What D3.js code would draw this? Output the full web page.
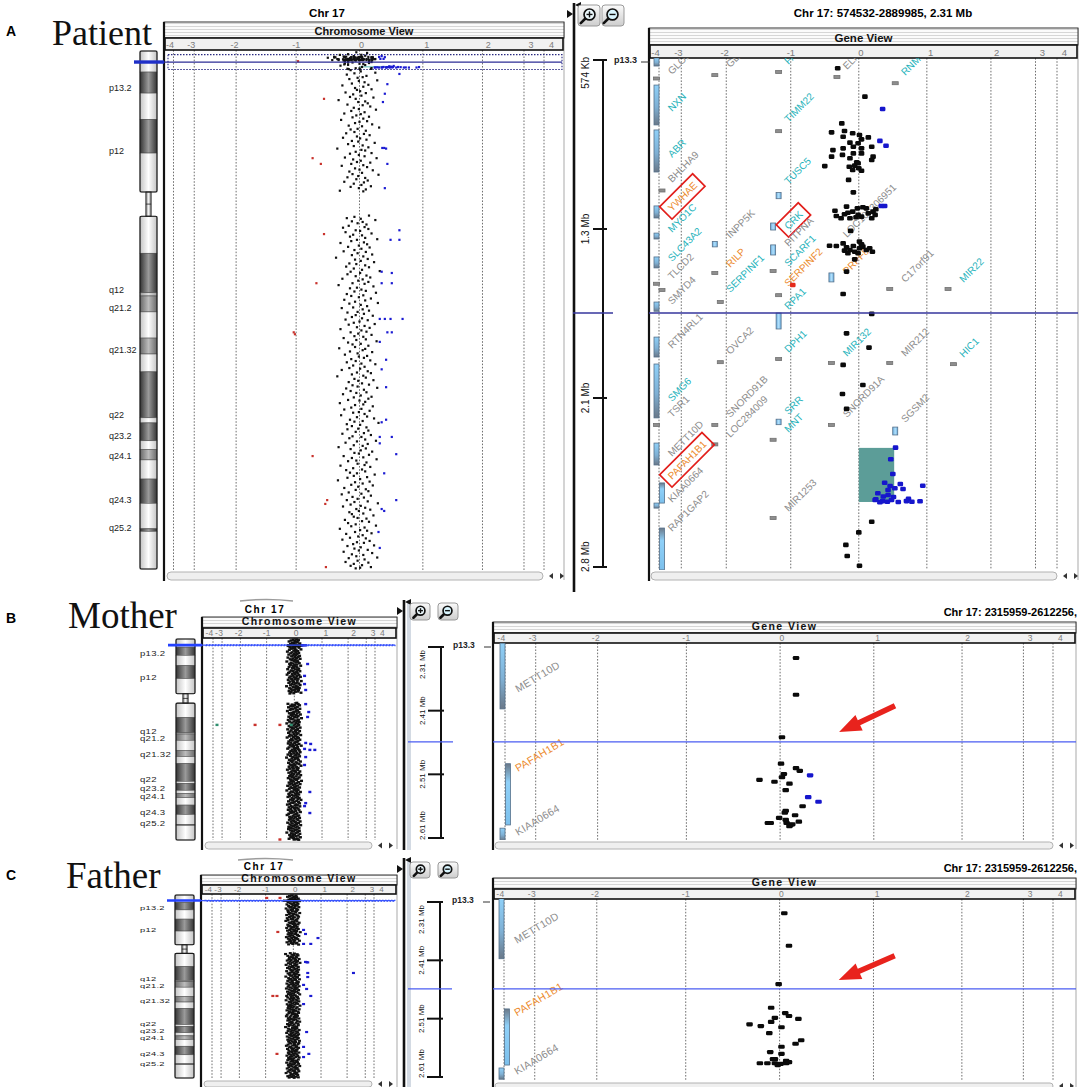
<!DOCTYPE html>
<html><head><meta charset="utf-8"><title>Chr 17 array CGH views</title>
<script src="https://cdn.jsdelivr.net/npm/d3@7/dist/d3.min.js"></script>
<style>
html,body{margin:0;padding:0;background:#fff;}
svg{display:block;font-family:Arial,"Liberation Sans",Helvetica,sans-serif;}
</style></head><body>
<svg id="fig" width="1084" height="1087" viewBox="0 0 1084 1087"></svg>
<script>
// ======================= DATA =======================
const chromosomeLengthMb = 81.2;
const logRatioTicks = [-4,-3,-2,-1,0,1,2,3,4];
const bandNames = ["p13.2","p12","q12","q21.2","q21.32","q22","q23.2","q24.1","q24.3","q25.2"];
const bandNameMb = [5.8,15.6,37.4,40.3,46.8,57.0,60.4,63.5,70.3,74.7];
// [start Mb, end Mb, stain]  w=white d=dark g=gray l=light acen=centromere
const chromBands = [[0,3.3,"w"],[3.3,6.6,"d"],[6.6,10.7,"w"],[10.7,16.0,"d"],[16.0,22.1,"w"],[22.1,25.9,"acen"],
 [25.9,31.7,"w"],[31.7,37.9,"d"],[37.9,38.4,"l"],[38.4,40.9,"g"],[40.9,45.0,"w"],[45.0,47.5,"g"],[47.5,50.3,"w"],
 [50.3,57.5,"d"],[57.5,58.3,"w"],[58.3,61.1,"d"],[61.1,62.5,"w"],[62.5,64.1,"g"],[64.1,67.1,"w"],[67.1,70.9,"d"],
 [70.9,74.9,"w"],[74.9,75.3,"d"],[75.3,81.2,"w"]];

// probe positions along chr17 (0.1 Mb units)
const probePositions = `
2 3 5 6 8 10 11 13 15 16 18 20 22 23 25 27 28 30 32 34
35 37 39 41 42 44 46 47 49 51 53 54 56 58 60 61 63 65 66 68
70 72 73 75 77 79 80 82 84 85 87 89 91 92 94 96 98 99 101 103
104 106 108 110 111 113 115 117 118 120 122 123 125 127 129 130 132 134 136 137
139 141 142 144 146 148 149 151 153 155 156 158 160 161 163 165 167 168 170 172
174 175 177 179 180 182 184 186 187 189 191 193 194 196 198 199 201 203 205 206
208 210 212 213 215 217 219 220 258 260 262 263 265 267 268 270 272 274 276 277
279 281 282 284 286 288 289 291 293 295 296 298 300 301 303 305 307 308 310 312
314 315 317 319 320 322 324 326 327 329 331 333 334 336 338 339 341 343 345 346
348 350 352 353 355 357 358 360 362 364 365 367 369 371 372 374 376 377 379 381
383 384 386 388 390 391 393 395 396 398 400 402 403 405 407 409 410 412 414 415
417 419 421 422 424 426 428 429 431 433 434 436 438 440 441 443 445 447 448 450
452 453 455 457 459 460 462 464 466 467 469 471 472 474 476 478 479 481 483 485
486 488 490 491 493 495 497 498 500 502 504 505 507 509 510 512 514 516 517 519
521 523 524 526 528 529 531 533 535 536 538 540 542 543 545 547 548 550 552 554
555 557 559 561 562 564 566 567 569 571 573 574 576 578 580 581 583 585 586 588
590 592 593 595 597 599 600 602 604 605 607 609 611 612 614 616 618 619 621 623
624 626 628 630 631 633 635 637 638 640 642 643 645 647 649 650 652 654 656 657
659 661 662 664 666 668 669 671 673 675 676 678 680 681 683 685 687 688 690 692
694 695 697 699 700 702 704 706 707 709 711 713 714 716 718 719 721 723 725 726
728 730 732 733 735 737 738 740 742 744 745 747 749 751 752 754 756 757 759 761
763 764 766 768 770 771 773 775 776 778 780 782 783 785 787 789 790 792 794 795
797 799 801 802 804 806 807 809 810 811`;

// log2 ratios x100 at each probe
const patientLR = `
-5 12 -18 3 -9 21 -2 7 -25 15 -11 0 9 -30 4 -6 18 -14 2 25
-8 -20 11 5 -3 -16 28 -1 8 -12 14 -27 6 -7 19 -4 1 -22 10 -10
3 -15 22 -6 -33 9 -2 13 -19 5 17 -9 -1 26 -13 8 -24 2 -5 15
-11 6 -29 12 0 -7 20 -17 4 31 -3 -14 10 -8 -21 7 16 -4 -26 1
11 -12 -2 24 -18 5 -9 14 -35 3 9 -6 19 -15 -1 8 -23 27 -10 2
-4 17 -13 6 -28 12 -7 0 21 -16 4 -11 30 -2 -19 9 -5 13 -24 7
-9 3 18 -14 -1 10 -31 6 15 -8 -20 2 25 -12 5 -3 11 -17 8 -26
14 -6 1 -22 19 -10 4 -15 9 28 -4 -13 7 -30 12 -1 -18 16 3 -8
-25 10 -3 20 -12 6 -37 13 -7 2 23 -16 -5 9 -21 15 -9 4 32 -14
1 -19 11 -6 17 -27 5 -2 14 -11 8 -33 22 -4 -15 3 10 -8 26 -20
6 -13 -1 18 -24 9 -7 29 -16 2 12 -10 -28 5 15 -3 -19 7 -6 21
-12 4 -22 13 0 -9 24 -17 8 -4 16 -30 3 11 -14 -2 19 -8 6 -25
10 -5 27 -18 2 -11 14 -7 -32 9 5 -15 20 -3 -23 12 -1 7 -13 17
-6 -20 3 25 -10 8 -16 1 -28 13 -4 18 -12 6 -35 10 -8 22 -2 -17
4 15 -11 -3 28 -21 7 -14 11 -5 -26 2 19 -9 14 -18 0 9 -31 6
-7 21 -13 3 -24 16 -1 -10 8 -29 12 -4 23 -15 5 -8 30 -20 1 -12
11 -2 -19 14 -6 7 -27 18 -11 3 -16 9 26 -4 -22 13 -9 5 -33 10
-14 2 20 -8 -1 15 -25 6 -12 27 -5 -18 11 -3 8 -30 17 -10 4 -21
9 -15 -4 24 -9 12 -19 1 -34 16 -7 5 -13 21 -2 -24 10 -6 14 -17
3 -28 18 -11 7 -3 -20 13 -8 29 -14 2 -26 9 -5 17 -1 -16 6 -12
22 -9 -3 11 -23 4 15 -18 -6 26 -13 8 -31 1 12 -7 19 -21 5 -2
-15 10 -27 16 -4 7 -10 23 -19 2 -8 13 -1 -25 20 -12 6 -5 28 -17
8 -3 -22 14 -9 4 -14 18 1 -6`;

const motherLR = `
8 -4 15 -12 2 -19 6 11 -7 -1 20 -14 4 -9 13 -3 -22 9 1 -16
17 -6 -11 3 24 -18 7 -2 12 -25 5 -8 16 -13 0 10 -20 6 -4 19
-10 2 14 -23 8 -5 21 -15 3 -9 11 -1 -27 13 5 -12 18 -6 -17 9
1 -14 23 -3 7 -19 10 -7 -2 16 -24 4 12 -11 -5 20 -16 8 -1 -21
13 -8 3 -26 17 -4 9 -13 22 -1 -18 6 14 -10 2 -22 11 -6 25 -15
-3 10 -20 5 16 -9 -1 21 -14 7 -28 12 -5 3 18 -17 8 -11 1 15
-7 -19 13 4 -12 24 -2 -16 9 6 -23 14 -8 1 19 -13 -4 11 -21 7
3 -11 20 -6 -15 8 12 -25 5 -2 17 -9 -18 10 -3 22 -12 6 -7 14
-20 1 9 -14 26 -5 -10 15 -22 4 11 -1 -17 18 -8 7 -27 13 2 -12
16 -4 -19 10 5 -13 21 -7 -2 12 -24 8 -11 3 19 -16 6 -5 -21 14
-1 9 -15 23 -8 4 -18 11 -3 -26 15 2 -10 7 20 -14 -6 13 -20 5
10 -12 1 -22 17 -6 8 -15 25 -3 -9 12 -19 6 0 -24 14 -7 3 18
-13 5 -4 21 -17 9 -1 -11 16 -23 7 2 -14 19 -6 11 -28 4 -9 13
2 -18 15 -5 -12 22 -8 6 -21 10 -2 17 -15 3 -10 24 -4 -19 8 -7
14 -3 -16 9 -25 12 -6 1 20 -11 5 -20 16 -8 -1 11 -13 23 -5 -17
7 -9 18 -2 -22 13 4 -14 8 -6 26 -12 -3 15 -19 9 -10 2 21 -16
-5 12 -24 6 1 -13 19 -7 10 -18 3 -1 14 -27 8 -11 22 -4 -15 11
4 -20 16 -9 7 -3 -17 12 -23 5 18 -8 -2 13 -14 24 -6 9 -21 1
15 -10 -4 19 -16 6 -25 11 2 -12 20 -7 -19 8 -1 14 -13 3 -22 17
-8 5 -15 22 -3 -11 10 -20 7 1 -26 16 -5 12 -17 4 -9 19 -2 -14
9 -18 13 -6 -1 21 -12 4 -24 15 -7 8 -16 2 23 -10 -3 11 -20 6
-12 17 -4 -21 10 3 -14 18 -8 -2 12 -27 7 -11 20 -5 1 -17 14 -6
5 -13 22 -9 -3 11 -19 8 -1 16`;

const fatherLR = `
-6 10 -14 3 -21 12 -2 7 -10 18 -4 -16 9 1 -12 22 -8 5 -19 13
2 -11 17 -5 -23 8 -1 14 -17 6 -7 20 -13 3 -26 11 -3 16 -9 -20
12 -4 5 -18 9 -12 23 -6 1 -15 10 -24 15 -2 -9 19 -14 4 -1 -22
16 -8 -3 11 -19 7 -27 13 -5 2 -15 21 -10 6 -1 17 -20 8 -12 4
-17 14 -6 1 -24 10 -9 18 -2 -13 6 -21 12 3 -7 25 -16 9 -4 -11
7 -19 15 -3 -10 20 -14 2 -25 11 -6 8 -18 16 -1 -12 5 22 -8 -15
3 -23 13 -7 9 -2 -17 19 -11 4 -28 14 -5 1 17 -20 10 -9 -3 12
-14 6 -1 21 -16 8 -8 -22 15 2 -12 11 -4 24 -18 5 -10 13 -26 7
10 -3 -15 18 -7 1 -21 12 -13 6 19 -9 -2 14 -24 9 -5 16 -11 3
-19 11 2 -14 20 -6 -10 7 -27 15 -1 12 -17 4 -8 22 -13 8 -3 -20
13 -5 18 -12 -2 9 -23 16 -7 3 -16 10 -1 21 -19 6 -11 14 -4 -25
8 -15 4 19 -9 -3 12 -21 5 -13 17 -6 1 -18 23 -10 7 -2 -24 11
-8 15 -20 2 -5 18 -12 9 -1 -26 13 -7 20 -15 4 -10 11 -3 16 -22
6 -11 -4 24 -17 3 -9 14 -2 -19 10 -13 21 -6 1 -23 8 -14 17 -1
-10 19 -16 5 -3 12 -22 7 -8 15 -25 4 -12 11 2 -18 20 -7 9 -15
1 -20 14 -9 23 -4 -13 10 -6 17 -21 3 -11 18 -2 -16 6 12 -28 8
-3 13 -18 7 -12 21 -5 2 -19 11 -9 16 -1 -24 9 -7 19 -14 4 -10
15 -6 -22 10 3 -15 18 -8 -1 13 -20 6 -11 22 -4 -17 8 1 -13 20
-9 4 17 -19 6 -2 -25 12 -10 9 -14 19 -6 2 -21 14 -3 10 -16 5
11 -12 -5 20 -18 7 -1 -15 13 -8 3 -23 16 -4 -11 9 21 -17 2 -7
-14 18 -3 -20 8 12 -9 -1 15 -24 5 -12 19 -6 1 -18 11 -10 23 -5
7 -16 2 14 -22 9 -7 17 -13 4 -2 20 -19 6 -11 13 -26 3 10 -8
-4 16 -12 1 -20 9 -6 18 -15 3`;

// chromosome-view called probes [Mb, log2 ratio]
const patientChromGain = [[3.6,0.63],[5.2,0.44],[6.7,0.40],[8.0,0.37],[15.2,0.36],[15.2,0.39],[15.3,0.42],[17.7,0.44],[21.5,0.40],
 [28.1,0.63],[29.6,0.49],[29.6,0.63],[34.6,0.35],[34.8,0.51],[36.4,0.35],[36.4,0.51],[42.0,0.32],[42.0,0.40],[42.0,0.49],[42.0,0.68],
 [44.1,0.44],[44.1,0.51],[45.6,0.32],[48.4,0.42],[49.9,0.35],[52.7,0.42],[57.8,0.42],[58.2,0.35],[60.5,0.32],[60.5,0.51],[61.5,0.32],
 [63.2,0.58],[66.2,0.39],[70.4,0.58],[71.8,0.35],[72.1,0.39],[75.4,0.30],[77.9,0.32]];
const patientChromLoss = [[7.5,-0.56],[16.8,-0.74],[17.7,-0.61],[28.7,-0.56],[36.4,-0.68],[44.1,-1.04],[44.4,-1.02],[63.5,-0.74],[70.4,-0.51],[71.0,-0.54],[80.9,-0.53]];
const motherChromGain = [[10.1,0.48],[14.9,0.37],[18.2,0.37],[20.6,0.41],[26.3,0.41],[29.5,0.52],[31.5,0.48],[42.0,0.41],[42.4,0.59],[44.4,0.37],
 [44.8,0.56],[44.8,0.74],[47.7,0.41],[50.9,0.37],[61.8,0.56],[66.3,0.41],[67.5,0.37],[70.3,0.56]];
const motherChromLoss = [[34.7,-1.44],[34.7,-0.52],[81.0,-0.52]];
const motherChromOther = [[34.7,-3.56],[34.7,-0.11]];
const fatherChromGain = [[15.5,0.37],[17.3,0.44],[19.1,0.89],[21.7,0.63],[21.7,0.37],[29.7,0.44],[29.8,0.48],[29.9,0.52],[34.6,0.52],[36.4,0.52],
 [34.6,2.35],[39.9,0.37],[41.7,0.48],[44.8,0.63],[48.4,0.37],[60.8,0.48],[67.4,0.37],[70.5,0.56],[71.9,0.37]];
const fatherChromLoss = [[1.3,-0.96],[1.3,-0.48],[16.4,-0.56],[44.8,-0.74],[44.8,-0.59],[70.5,-0.59]];

// gene-view windows (bp), ruler labels, cursor position
const patientWindowBp = [574532, 2889985];
const parentWindowBp = [2315959, 2612256];
const patientGeneTitle = "Chr 17: 574532-2889985, 2.31 Mb";
const parentGeneTitle = "Chr 17: 2315959-2612256,";
const patientRulerLabels = ["574 Kb","1.3 Mb","2.1 Mb","2.8 Mb"];
const parentRulerLabels = ["2.31 Mb","2.41 Mb","2.51 Mb","2.61 Mb"];
const patientCursorMb = 1.73;
const parentCursorMb = 2.463;

// gene features [start Mb, end Mb, track, strand]
const patientGeneFeatures = [
 [0.565,0.602,0,0],[0.648,0.670,0,0],[0.689,0.871,0,0],[0.894,1.086,0,0],[1.166,1.175,0,1],[1.241,1.296,0,0],[1.365,1.392,0,0],
 [1.474,1.524,0,0],[1.593,1.600,0,0],[1.616,1.634,0,1],[1.680,1.722,0,0],[1.840,1.931,0,0],[1.963,2.209,0,0],[2.232,2.251,0,0],
 [2.324,2.424,0,0],[2.506,2.598,0,1],[2.598,2.621,0,0],[2.712,2.903,0,1],
 [0.642,0.645,1,0],[1.403,1.428,1,0],[1.546,1.549,1,0],[1.670,1.690,1,1],[1.953,1.956,1,1],[2.240,2.243,1,0],[2.320,2.340,1,0],
 [0.628,0.631,2,1],[0.898,0.901,2,1],[1.180,1.208,2,1],[1.319,1.351,2,0],[1.419,1.465,2,0],[1.537,1.540,2,0],[1.647,1.650,2,1],
 [1.730,1.803,2,1],[1.939,1.942,2,1],[2.215,2.240,2,1],[2.300,2.318,2,0],[2.665,2.668,2,0],
 [0.651,0.654,3,1],[1.547,1.588,3,0],[1.957,1.960,3,0],[2.240,2.243,3,0],
 [0.679,0.682,4,1],[1.619,1.622,4,0],[1.957,1.960,4,0],[2.251,2.287,4,1],
 [1.619,1.622,5,0],[1.962,1.965,5,1]];
// gene labels [name, Mb, track, colour class, boxed]
const patientGeneLabels = [
 ["GLOD4",0.643,0,"g"],["NXN",0.812,0,"t"],["ABR",1.022,0,"t"],["BHLHA9",1.136,0,"g"],["YWHAE",1.269,0,"o",1],["MYO1C",1.365,0,"t"],
 ["SLC43A2",1.497,0,"t"],["TLCD2",1.579,0,"g"],["SMYD4",1.693,0,"g"],["RTN4RL1",1.894,0,"g"],["SMG6",2.136,0,"t"],["TSR1",2.209,0,"g"],
 ["METT10D",2.388,0,"g"],["PAFAH1B1",2.493,0,"o",1],["KIAA0664",2.598,0,"g"],["RAP1GAP2",2.730,0,"g"],
 ["GEMIN4",0.611,1,"g"],["INPP5K",1.392,1,"g"],["RILP",1.524,1,"o"],["SERPINF1",1.639,1,"t"],["OVCA2",1.922,1,"g"],
 ["SNORD91B",2.209,1,"g"],["LOC284009",2.301,1,"g"],
 ["FAM57A",0.597,2,"t"],["TIMM22",0.862,2,"t"],["TUSC5",1.145,2,"t"],["CRK",1.351,2,"t",1],["PITPNA",1.429,2,"g"],["SCARF1",1.520,2,"t"],
 ["SERPINF2",1.611,2,"o"],["RPA1",1.716,2,"t"],["DPH1",1.913,2,"t"],["SRR",2.196,2,"t"],["MNT",2.278,2,"t"],["MIR1253",2.639,2,"g"],
 ["ELP5",0.620,3,"g"],["LOC100306951",1.387,3,"g"],["PRPF8",1.556,3,"o"],["MIR132",1.931,3,"t"],["SNORD91A",2.209,3,"g"],
 ["RNMTL1",0.648,4,"t"],["C17orf91",1.593,4,"g"],["MIR212",1.931,4,"g"],["SGSM2",2.232,4,"g"],
 ["MIR22",1.593,5,"t"],["HIC1",1.935,5,"t"]];
const parentGeneFeatures = [[2.310,2.412,0,0],[2.497,2.592,0,1],[2.597,2.616,0,0]];
const parentGeneLabels = [["METT10D",2.387,0,"g"],["PAFAH1B1",2.510,0,"o"],["KIAA0664",2.609,0,"g"]];

// gene-view probes [Mb, log2 ratio]
const patientGeneNormal = [[0.612,-0.31],[0.742,0.09],
 [0.864,-0.25],[0.905,-0.40],[0.899,-0.21],[0.909,-0.09],[0.917,0.01],[0.937,0.04],[0.928,0.14],[0.925,-0.23],[0.955,-0.01],[0.952,-0.13],
 [0.986,-0.38],[0.978,-0.23],[0.971,-0.08],[0.978,0.04],[0.971,0.19],[1.001,-0.08],[1.001,0.04],[1.016,0.21],[1.016,-0.40],[1.008,-0.24],
 [1.023,-0.13],[1.042,-0.03],[1.062,-0.14],[1.057,-0.06],[1.069,0.00],[1.080,0.04],[1.077,-0.09],[1.031,0.19],[1.059,-0.50],[1.046,-0.01],
 [1.122,-0.15],[1.179,-0.08],
 [1.263,-0.35],[1.287,-0.33],[1.297,-0.26],[1.244,-0.18],[1.272,-0.16],[1.279,-0.21],[1.267,-0.09],[1.252,-0.02],[1.282,-0.01],[1.290,0.04],
 [1.247,0.06],[1.252,0.11],[1.275,0.14],[1.267,0.21],[1.256,0.25],[1.297,0.19],[1.293,-0.04],[1.297,-0.13],[1.282,0.24],
 [1.355,-0.12],
 [1.423,-0.43],[1.424,-0.33],[1.412,-0.23],[1.430,-0.18],[1.445,-0.21],[1.442,-0.13],[1.424,-0.08],[1.450,-0.06],[1.404,0.01],[1.434,0.01],
 [1.427,0.06],[1.442,0.11],[1.434,0.16],[1.450,0.20],[1.457,-0.16],[1.457,-0.01],[1.416,0.04],
 [1.485,-0.06],[1.541,-0.18],[1.643,-0.23],[1.734,0.19],[1.823,-0.18],[1.888,0.15],[1.967,-0.23],[2.059,0.06],[2.100,-0.24],[2.168,-0.18],
 [2.683,0.19],[2.732,0.00],[2.789,-0.19],[2.840,-0.17],[2.884,0.01]];
const patientGeneGain = [[0.798,0.35],[0.944,0.31],[0.966,0.40],[1.241,0.33],[1.241,0.38],
 [2.345,0.54],[2.398,0.47],[2.465,0.50],[2.505,0.38],[2.511,0.61],[2.520,0.46],[2.530,0.53],[2.534,0.65],[2.519,0.94],[2.553,0.28],
 [2.561,0.43],[2.570,0.51],[2.584,0.24],[2.589,0.35],[2.592,0.42],[2.593,0.58],[2.579,0.73],[2.592,0.78],[2.590,0.90],[2.594,0.31],
 [2.584,0.48],[2.589,0.70],[2.538,0.43],[2.568,0.36],[2.581,0.25]];
const patientGeneLoss = [[1.602,-0.97]];
const patientSegment = [2.346, 2.593, 0.52]; // [start Mb, end Mb, mean log2 ratio]
const motherGeneNormal = [[2.333,0.17],[2.390,0.17],[2.456,0.02],[2.497,0.01],[2.504,0.17],[2.508,0.21],[2.513,0.04],[2.518,0.02],
 [2.522,-0.22],[2.525,-0.06],[2.528,0.10],[2.538,0.06],[2.563,0.24],[2.570,0.06],[2.573,0.05],[2.577,0.16],[2.581,-0.01],[2.584,0.06],
 [2.589,-0.13],[2.589,-0.10],[2.589,0.07],[2.592,0.11],[2.591,0.13],[2.587,0.20],[2.594,0.10]];
const motherGeneGain = [[2.515,0.32],[2.549,0.30],[2.556,0.41]];
const fatherGeneNormal = [[2.335,0.05],[2.390,0.10],[2.455,-0.01],[2.495,-0.09],[2.504,0.06],[2.509,0.10],[2.512,-0.05],[2.519,-0.09],
 [2.514,0.20],[2.523,-0.32],[2.526,-0.20],[2.528,0.02],[2.538,-0.11],[2.550,0.23],[2.556,0.17],[2.561,0.02],[2.570,-0.10],[2.573,0.02],
 [2.582,-0.05],[2.582,-0.07],[2.589,-0.21],[2.589,-0.13],[2.589,-0.05],[2.590,0.01],[2.589,0.07],[2.585,0.07],[2.587,0.10],[2.592,-0.02]];
// annotation arrow in parents' gene view [log2 ratio, Mb]
const arrowTail = [1.24, 2.407];
const arrowTip = [0.63, 2.448];

// ======================= LAYOUT =======================
const lrFrac = [0,0.056,0.169,0.331,0.502,0.673,0.834,0.946,1];
const labelColor = {g:"#8c8c8c", t:"#27b3bb", o:"#ec8a2c"};
const num = s => s.trim().split(/\s+/).map(Number);
const probeMb = num(probePositions).map(v => v/10);
const cloudOf = s => d3.zip(probeMb, num(s).map(v => v/100));

const panels = [
 {key:"A", letter:[6,36], name:[52,45,36,"Patient"],
  chrom:{left:164,right:564,top:22,hh:16,ah:12,bottom:570,x0:173.5,x1:544,yr:[51,569],ideo:[140,157],bandX:109,bandFont:9,bandLS:0,bandSX:1,
         headFont:11,headLS:0,tickFont:9,tickLS:0,title:[327,17,11.5,0],dot:[2.2,2.2],cursorX0:134,cursorW:3.4,sb:[167,543],sbh:8,arc:null},
  gene:{left:649,right:1078,top:28,hh:17,ah:13,bottom:570,x0:659,x1:1057,yr:[60,567],headFont:11.5,headLS:0,tickFont:9.5,tickLS:0,
         title:[883,17,11.5,"middle"],labelFont:10,labelLS:0,labelRot:-45,pt:[5.6,4.6],sb:[651,1057],sbh:8},
  sep:{x:574,y0:3,y1:592,band:false,tri:5}, ruler:{x:603,lx:589,font:10,tl:10,tr:4,first:-3,last:5,narrow:false,cursorX:[573,613]},
  buttons:[578,5,22,21,2], p133:[614,63,9,641,650],
  data:{cloud:patientLR,gain:patientChromGain,loss:patientChromLoss,other:[],gNormal:patientGeneNormal,gGain:patientGeneGain,gLoss:patientGeneLoss,
        segment:patientSegment,features:patientGeneFeatures,labels:patientGeneLabels,window:patientWindowBp,rulerLabels:patientRulerLabels,
        cursor:patientCursorMb,title:patientGeneTitle,arrow:false},
  colors:{thick:"#1f2fc8",thin:"#2c2c96",sel:"#2a2a80",gene:"#36369c"}},
 {key:"B", letter:[6,623], name:[68,628,37,"Mother"],
  chrom:{left:202,right:397,top:617,hh:11,ah:10,bottom:840,x0:213,x1:375,yr:[639,840],ideo:[176,195],bandX:140,bandFont:6.6,bandLS:0.2,bandSX:1.45,
         headFont:10.5,headLS:1.4,tickFont:8.5,tickLS:0.3,title:[265,612.5,10,1.6],dot:[3,2.4],cursorX0:168,cursorW:2.6,sb:[205,372],sbh:7,arc:[240,293,600]},
  gene:{left:493,right:1076,top:622,hh:11,ah:10,bottom:840,x0:505,x1:1053,yr:[647,838],headFont:10.5,headLS:1.4,tickFont:8.5,tickLS:0.4,
         title:[1077,616,11,"end"],labelFont:10.5,labelLS:0.3,labelRot:-31,pt:[6.5,4.2],sb:[495,1053],sbh:7},
  sep:{x:404,y0:600,y1:850,band:true,tri:602}, ruler:{x:441,lx:425,font:8,tl:13,tr:3,first:3,last:2,narrow:true,cursorX:[408,453]},
  buttons:[410,603,20,17,8], p133:[453,648,8.5,484,491],
  data:{cloud:motherLR,gain:motherChromGain,loss:motherChromLoss,other:motherChromOther,gNormal:motherGeneNormal,gGain:motherGeneGain,gLoss:[],
        segment:null,features:parentGeneFeatures,labels:parentGeneLabels,window:parentWindowBp,rulerLabels:parentRulerLabels,
        cursor:parentCursorMb,title:parentGeneTitle,arrow:true},
  colors:{thick:"#2442ff",thin:"#3a55ff",sel:"#3048ee",gene:"#4a5cf2"}},
 {key:"C", letter:[6,880], name:[66,888,37,"Father"],
  chrom:{left:201,right:397,top:875,hh:10,ah:9,bottom:1079,x0:212,x1:374,yr:[895,1078],ideo:[175,194],bandX:140,bandFont:6.2,bandLS:0.2,bandSX:1.5,
         headFont:10.5,headLS:1.4,tickFont:8,tickLS:0.3,title:[264,870,10,1.6],dot:[3,2.2],cursorX0:167,cursorW:2.6,sb:[204,372],sbh:6,arc:[238,293,859]},
  gene:{left:493,right:1076,top:878,hh:11,ah:10,bottom:1081,x0:504,x1:1053,yr:[902,1077],headFont:10.5,headLS:1.4,tickFont:8.5,tickLS:0.4,
         title:[1077,872,11,"end"],labelFont:10.5,labelLS:0.3,labelRot:-31,pt:[6.5,4.2],sb:[495,1053],sbh:6},
  sep:{x:404,y0:858,y1:1087,band:true,tri:860}, ruler:{x:440,lx:424,font:8,tl:13,tr:3,first:3,last:1,narrow:true,cursorX:[408,452]},
  buttons:[410,862,20,16,8], p133:[452,903,8.5,483,490],
  data:{cloud:fatherLR,gain:fatherChromGain,loss:fatherChromLoss,other:[],gNormal:fatherGeneNormal,gGain:[],gLoss:[],
        segment:null,features:parentGeneFeatures,labels:parentGeneLabels,window:parentWindowBp,rulerLabels:parentRulerLabels,
        cursor:parentCursorMb,title:parentGeneTitle,arrow:true},
  colors:{thick:"#2442ff",thin:"#3a55ff",sel:"#3048ee",gene:"#4a5cf2"}}
];

// ======================= DRAWING =======================
const svg = d3.select("#fig");
svg.append("rect").attr("width",1084).attr("height",1087).attr("fill","#fff");
const defs = svg.append("defs");
function hgrad(id, stops){
  const g = defs.append("linearGradient").attr("id",id).attr("x1",0).attr("x2",1).attr("y1",0).attr("y2",0);
  stops.forEach(([o,c]) => g.append("stop").attr("offset",o).attr("stop-color",c));
}
function vgrad(id, stops){
  const g = defs.append("linearGradient").attr("id",id).attr("x1",0).attr("x2",0).attr("y1",0).attr("y2",1);
  stops.forEach(([o,c]) => g.append("stop").attr("offset",o).attr("stop-color",c));
}
hgrad("stain-w",[[0,"#c4c4c4"],[0.5,"#ffffff"],[1,"#c4c4c4"]]);
hgrad("stain-d",[[0,"#353535"],[0.5,"#9a9a9a"],[1,"#353535"]]);
hgrad("stain-g",[[0,"#686868"],[0.5,"#bcbcbc"],[1,"#686868"]]);
hgrad("stain-l",[[0,"#9a9a9a"],[0.5,"#e0e0e0"],[1,"#9a9a9a"]]);
hgrad("stain-acen",[[0,"#8a8a8a"],[0.5,"#f2f2f2"],[1,"#8a8a8a"]]);
hgrad("geneBox",[[0,"#6aaee0"],[0.5,"#b2e0fb"],[1,"#6aaee0"]]);
vgrad("strand0",[[0,"#8fd0f8"],[0.55,"#7fb0d4"],[1,"#6a7888"]]);
vgrad("strand1",[[0,"#6a7888"],[0.3,"#8fd0f8"],[1,"#7cc0ec"]]);
vgrad("btn",[[0,"#fbfbfb"],[1,"#cdcdcd"]]);
const pat = defs.append("pattern").attr("id","stripes").attr("width",4).attr("height",3).attr("patternUnits","userSpaceOnUse");
pat.append("rect").attr("width",4).attr("height",3).attr("fill","#fbfbfb");
pat.append("rect").attr("y",2).attr("width",4).attr("height",1).attr("fill","#d6d6d6");

function lrScale(a,b){ return d3.scaleLinear().domain(logRatioTicks).range(lrFrac.map(f => a + f*(b-a))); }

function viewFrame(o, headText){
  const g = svg.append("g");
  const plotTop = o.top + o.hh + o.ah;
  const x = lrScale(o.x0, o.x1);
  const xl = lrScale(o.x0-4, o.x1+7);
  g.selectAll("line.grid").data(logRatioTicks).join("line").attr("class","grid")
    .attr("x1",d=>x(d)).attr("x2",d=>x(d)).attr("y1",plotTop).attr("y2",o.bottom)
    .attr("stroke","#707070").attr("stroke-width",1).attr("stroke-dasharray","1.6,1.6");
  g.append("line").attr("x1",o.right).attr("x2",o.right).attr("y1",o.top).attr("y2",o.bottom+o.sbh+2)
    .attr("stroke","#a9a9a9").attr("stroke-width",1);
  g.append("rect").attr("x",o.left).attr("y",o.top).attr("width",o.right-o.left).attr("height",o.hh)
    .attr("fill","url(#stripes)").attr("stroke","#333").attr("stroke-width",1);
  g.append("text").attr("x",(o.left+o.right)/2).attr("y",o.top+o.hh-3.3).attr("text-anchor","middle")
    .attr("font-weight","bold").attr("font-size",o.headFont).attr("letter-spacing",o.headLS).attr("fill","#111").text(headText);
  g.append("rect").attr("x",o.left+1).attr("y",o.top+o.hh).attr("width",o.right-o.left-2).attr("height",o.ah)
    .attr("fill","#f1f1f1").attr("stroke","#111").attr("stroke-width",1.6);
  const ax = g.append("g").attr("transform",`translate(0,${plotTop-2.2})`)
    .call(d3.axisTop(xl).tickValues(logRatioTicks).tickSize(0).tickPadding(0).tickFormat(d=>String(d)));
  ax.select(".domain").remove();
  ax.selectAll("text").attr("fill","#7c7c7c").attr("font-size",o.tickFont).attr("letter-spacing",o.tickLS)
    .attr("font-family","Arial, 'Liberation Sans', sans-serif");
  g.append("line").attr("x1",o.left).attr("x2",o.left).attr("y1",o.top).attr("y2",o.bottom+o.sbh+3)
    .attr("stroke","#111").attr("stroke-width",2.2);
  const sy = o.bottom + 2;
  g.append("rect").attr("x",o.sb[0]).attr("y",sy).attr("width",o.sb[1]-o.sb[0]).attr("height",o.sbh).attr("rx",o.sbh/2)
    .attr("fill","#efefef").attr("stroke","#b2b2b2").attr("stroke-width",1);
  const ay = sy + o.sbh/2, ax0 = o.sb[1] + 6;
  g.append("path").attr("d",`M${ax0+4},${ay-3}L${ax0},${ay}L${ax0+4},${ay+3}Z`).attr("fill","#333");
  g.append("path").attr("d",`M${ax0+11},${ay-3}L${ax0+15},${ay}L${ax0+11},${ay+3}Z`).attr("fill","#333");
  return {x, plotTop};
}

function ideogram(o, y){
  const g = svg.append("g");
  const [a,b] = o.ideo, cx = (a+b)/2;
  const bands = chromBands.map(([s,e,st]) => ({s,e,st}));
  const cen = bands.find(d => d.st === "acen");
  g.selectAll("rect.band").data(bands.filter(d => d.st !== "acen")).join("rect").attr("class","band")
    .attr("x",a).attr("width",b-a).attr("y",d=>y(d.s)).attr("height",d=>y(d.e)-y(d.s))
    .attr("fill",d=>`url(#stain-${d.st})`).attr("stroke","#444").attr("stroke-width",0.5);
  g.append("rect").attr("x",cx-2.6).attr("width",5.2).attr("y",y(cen.s)).attr("height",y(cen.e)-y(cen.s))
    .attr("fill","url(#stain-acen)").attr("stroke","#222").attr("stroke-width",0.9);
  g.append("line").attr("x1",cx-2.6).attr("x2",cx+2.6).attr("y1",y((cen.s+cen.e)/2)).attr("y2",y((cen.s+cen.e)/2))
    .attr("stroke","#222").attr("stroke-width",0.8);
  g.append("rect").attr("x",a).attr("width",b-a).attr("y",y(0)).attr("height",y(cen.s)-y(0))
    .attr("fill","none").attr("stroke","#1a1a1a").attr("stroke-width",1.1).attr("rx",1.5);
  g.append("rect").attr("x",a).attr("width",b-a).attr("y",y(cen.e)).attr("height",y(chromosomeLengthMb)-y(cen.e))
    .attr("fill","none").attr("stroke","#1a1a1a").attr("stroke-width",1.1).attr("rx",1.5);
  g.selectAll("text").data(d3.zip(bandNames, bandNameMb)).join("text")
    .attr("transform",d => `translate(${o.bandX},${y(d[1])}) scale(${o.bandSX},1)`)
    .attr("dy","0.35em").attr("font-size",o.bandFont)
    .attr("letter-spacing",o.bandLS).attr("fill","#222").text(d=>d[0]);
}

function dotLayer(g, data, x, y, size, color, rx){
  g.append("g").selectAll("rect").data(data).join("rect")
    .attr("x",d=>x(d[1])-size[0]/2).attr("y",d=>y(d[0])-size[1]/2)
    .attr("width",size[0]).attr("height",size[1]).attr("rx",rx||0).attr("fill",color);
}

function arrowShape(g, x1, y1, x2, y2, shaftW, headL, headW){
  const dx=x2-x1, dy=y2-y1, len=Math.hypot(dx,dy), ux=dx/len, uy=dy/len, px=-uy, py=ux;
  const bx=x2-ux*headL, by=y2-uy*headL;
  const pts=[[x1+px*shaftW/2,y1+py*shaftW/2],[bx+px*shaftW/2,by+py*shaftW/2],[bx+px*headW/2,by+py*headW/2],[x2,y2],
             [bx-px*headW/2,by-py*headW/2],[bx-px*shaftW/2,by-py*shaftW/2],[x1-px*shaftW/2,y1-py*shaftW/2]];
  g.append("polygon").attr("points",pts.map(p=>p.map(v=>v.toFixed(1)).join(",")).join(" ")).attr("fill","#e8231d");
}

function zoomButtons(b){
  const [x,y,w,h,gap] = b;
  const g = svg.append("g");
  [0,1].forEach(i => {
    const bx = x + i*(w+gap);
    g.append("rect").attr("x",bx).attr("y",y).attr("width",w).attr("height",h).attr("rx",3)
      .attr("fill","url(#btn)").attr("stroke","#999").attr("stroke-width",1);
    const r = Math.min(w,h)*0.26, cx = bx + w*0.5 + (i? -0.5:0.5), cy = y + h*0.45;
    g.append("line").attr("x1",cx-r*0.7).attr("y1",cy+r*0.7).attr("x2",cx-r*1.6).attr("y2",cy+r*1.6)
      .attr("stroke","#111").attr("stroke-width",2.6).attr("stroke-linecap","round");
    g.append("circle").attr("cx",cx).attr("cy",cy).attr("r",r).attr("fill",i?"#d9f6ff":"#eefbff").attr("stroke","#111").attr("stroke-width",1.7);
    g.append("line").attr("x1",cx-r*0.55).attr("x2",cx+r*0.55).attr("y1",cy).attr("y2",cy).attr("stroke","#111").attr("stroke-width",1.4);
    if(!i) g.append("line").attr("x1",cx).attr("x2",cx).attr("y1",cy-r*0.55).attr("y2",cy+r*0.55).attr("stroke","#111").attr("stroke-width",1.4);
  });
}

function drawPanel(P){
  const c = P.chrom, gv = P.gene, D = P.data, R = P.ruler;
  svg.append("text").attr("x",P.letter[0]).attr("y",P.letter[1]).attr("font-size",14).attr("font-weight","bold").text(P.key);
  svg.append("text").attr("x",P.name[0]).attr("y",P.name[1]).attr("font-size",P.name[2])
    .attr("font-family","'Liberation Serif','Times New Roman',serif").attr("fill","#111").text(P.name[3]);

  // ---- chromosome view ----
  const yC = d3.scaleLinear().domain([0, chromosomeLengthMb]).range(c.yr);
  const fC = viewFrame(c, "Chromosome View");
  if(c.arc) svg.append("path").attr("d",`M${c.arc[0]},${c.arc[2]+1}Q${(c.arc[0]+c.arc[1])/2},${c.arc[2]-2} ${c.arc[1]},${c.arc[2]+1}`)
    .attr("fill","none").attr("stroke","#9c9c9c").attr("stroke-width",1.5);
  svg.append("text").attr("x",c.title[0]).attr("y",c.title[1]).attr("text-anchor","middle").attr("font-weight","bold")
    .attr("font-size",c.title[2]).attr("letter-spacing",c.title[3]).text("Chr 17");
  ideogram(c, yC);
  const win = D.window.map(v => v/1e6);
  svg.append("rect").attr("x",c.left+4).attr("y",yC(win[0])).attr("width",c.right-c.left-6)
    .attr("height",Math.max(1,yC(win[1])-yC(win[0]))).attr("fill","none").attr("stroke",P.colors.sel)
    .attr("stroke-width",1.1).attr("stroke-dasharray","1.5,1.5");
  const gc = svg.append("g");
  if(D.segment) gc.append("rect").attr("x",fC.x(0)).attr("width",fC.x(D.segment[2])-fC.x(0))
    .attr("y",yC(D.segment[0])).attr("height",Math.max(1.5,yC(D.segment[1])-yC(D.segment[0]))).attr("fill","#8fd3d0");
  dotLayer(gc, cloudOf(D.cloud), fC.x, yC, c.dot, "#111");
  dotLayer(gc, D.gNormal, fC.x, yC, c.dot, "#111");
  dotLayer(gc, D.gain, fC.x, yC, c.dot, "#1b1bd2");
  dotLayer(gc, D.gGain, fC.x, yC, c.dot, "#1b1bd2");
  dotLayer(gc, D.loss, fC.x, yC, c.dot, "#c8322c");
  dotLayer(gc, D.gLoss, fC.x, yC, c.dot, "#c8322c");
  dotLayer(gc, D.other, fC.x, yC, c.dot, "#2f8f6f");
  const cyC = yC(D.cursor);
  svg.append("line").attr("x1",c.cursorX0).attr("x2",c.left).attr("y1",cyC).attr("y2",cyC)
    .attr("stroke",P.colors.thick).attr("stroke-width",c.cursorW);
  svg.append("line").attr("x1",c.left).attr("x2",c.right-2).attr("y1",cyC).attr("y2",cyC)
    .attr("stroke",P.colors.thin).attr("stroke-width",1.2);

  // ---- separator & zoom buttons ----
  const S = P.sep;
  if(S.band) svg.append("rect").attr("x",S.x+3).attr("y",S.y0).attr("width",4).attr("height",S.y1-S.y0).attr("fill","#d3dae3");
  svg.append("line").attr("x1",S.x).attr("x2",S.x).attr("y1",S.y0).attr("y2",S.y1).attr("stroke","#111").attr("stroke-width",2.6);
  svg.append("path").attr("d",`M${S.x+1},${S.tri}L${S.x+7},${S.tri-3}L${S.x+7},${S.tri+3}Z`).attr("fill","#111");
  svg.append("path").attr("d",`M${S.x-7},${S.tri+5}L${S.x-1},${S.tri+9}L${S.x-7},${S.tri+13}Z`).attr("fill","#111");
  zoomButtons(P.buttons);

  // ---- gene view ----
  const yG = d3.scaleLinear().domain(win).range(gv.yr);
  const fG = viewFrame(gv, "Gene View");
  svg.append("text").attr("x",gv.title[0]).attr("y",gv.title[1]).attr("text-anchor",gv.title[3]).attr("font-weight","bold")
    .attr("font-size",gv.title[2]).text(D.title);
  const clipId = "clip" + P.key;
  defs.append("clipPath").attr("id",clipId).append("rect").attr("x",gv.left+1).attr("y",fG.plotTop)
    .attr("width",gv.right-gv.left-1).attr("height",gv.bottom-fG.plotTop);
  const gg = svg.append("g").attr("clip-path",`url(#${clipId})`);
  const colStep = 0.1465*(gv.x1-gv.x0);
  const fx = d => gv.x0 - 5 + d[2]*colStep + d[3]*5.5;
  const fh = d => yG(d[1]) - yG(d[0]);
  gg.append("g").selectAll("rect").data(D.features).join("rect")
    .attr("x",d => fh(d) >= 5 ? fx(d) : fx(d)-0.5)
    .attr("y",d => fh(d) >= 5 ? yG(d[0]) : (yG(d[0])+yG(d[1]))/2-1.5)
    .attr("width",d => fh(d) >= 5 ? 5 : 6)
    .attr("height",d => fh(d) >= 5 ? fh(d) : 3)
    .attr("fill",d => fh(d) < 5 ? "#8e8e8e" : (d[2]===0 ? `url(#strand${d[3]})` : "url(#geneBox)"))
    .attr("stroke",d => fh(d) < 5 ? "#707070" : "#55708a").attr("stroke-width",0.8);
  const lab = gg.append("g").selectAll("g").data(D.labels).join("g")
    .attr("transform",d => `translate(${gv.x0+13+d[2]*colStep},${yG(d[1])}) rotate(${gv.labelRot})`);
  lab.append("text").attr("font-size",gv.labelFont).attr("letter-spacing",gv.labelLS)
    .attr("fill",d => labelColor[d[3]]).text(d => d[0]);
  lab.filter(d => d[4]).each(function(){
    const g = d3.select(this), len = g.select("text").node().getComputedTextLength();
    g.append("rect").attr("x",-5).attr("y",-gv.labelFont-2.5).attr("width",len+10).attr("height",gv.labelFont+7.5)
      .attr("fill","none").attr("stroke","#e21f1b").attr("stroke-width",1.7);
  });
  if(D.segment) gg.append("rect").attr("x",fG.x(0)).attr("width",fG.x(D.segment[2])-fG.x(0))
    .attr("y",yG(D.segment[0])).attr("height",yG(D.segment[1])-yG(D.segment[0])).attr("fill","#5c9d98");
  dotLayer(gg, D.gNormal, fG.x, yG, gv.pt, "#0a0a0a", 1.3);
  dotLayer(gg, D.gGain, fG.x, yG, gv.pt, "#1616cc", 1.3);
  dotLayer(gg, D.gLoss, fG.x, yG, gv.pt, "#e52a1a", 1.3);
  const cyG = yG(D.cursor);
  svg.append("line").attr("x1",gv.left).attr("x2",gv.right).attr("y1",cyG).attr("y2",cyG)
    .attr("stroke",P.colors.gene).attr("stroke-width",1.3);
  if(D.arrow) arrowShape(svg, fG.x(arrowTail[0]), yG(arrowTail[1]), fG.x(arrowTip[0]), yG(arrowTip[1]), 5.5, 22, 17);

  // ---- ruler ----
  const tv = d3.quantize(d3.interpolateNumber(win[0], win[1]), 4);
  svg.append("line").attr("x1",R.x).attr("x2",R.x).attr("y1",yG(tv[0])).attr("y2",yG(tv[3]))
    .attr("stroke","#111").attr("stroke-width",2);
  svg.append("g").selectAll("line").data(tv).join("line").attr("x1",R.x-R.tl).attr("x2",R.x+R.tr)
    .attr("y1",d=>yG(d)).attr("y2",d=>yG(d)).attr("stroke","#111").attr("stroke-width",2);
  svg.append("g").selectAll("text").data(d3.zip(tv, D.rulerLabels)).join("text")
    .attr("transform",(d,i) => `translate(${R.lx},${yG(d[0]) + (i===0 ? R.first : i===3 ? R.last : 0)}) rotate(-90)`)
    .attr("text-anchor",(d,i) => i===0 ? "end" : i===3 ? "start" : "middle")
    .attr("font-size",R.font).attr("fill","#111")
    .attr("font-family",R.narrow ? "'Liberation Sans Narrow','Arial Narrow',Arial,sans-serif" : "Arial,'Liberation Sans',sans-serif")
    .text(d => d[1]);
  svg.append("line").attr("x1",R.cursorX[0]).attr("x2",R.cursorX[1]).attr("y1",cyG).attr("y2",cyG)
    .attr("stroke",P.colors.gene).attr("stroke-width",1.3);
  const p = P.p133;
  svg.append("text").attr("x",p[0]).attr("y",p[1]).attr("font-size",p[2]).attr("font-weight","bold").attr("fill","#222").text("p13.3");
  svg.append("line").attr("x1",p[3]).attr("x2",p[4]).attr("y1",p[1]-1).attr("y2",p[1]-1).attr("stroke","#333").attr("stroke-width",1);
}

panels.forEach(drawPanel);
</script>
</body></html>
